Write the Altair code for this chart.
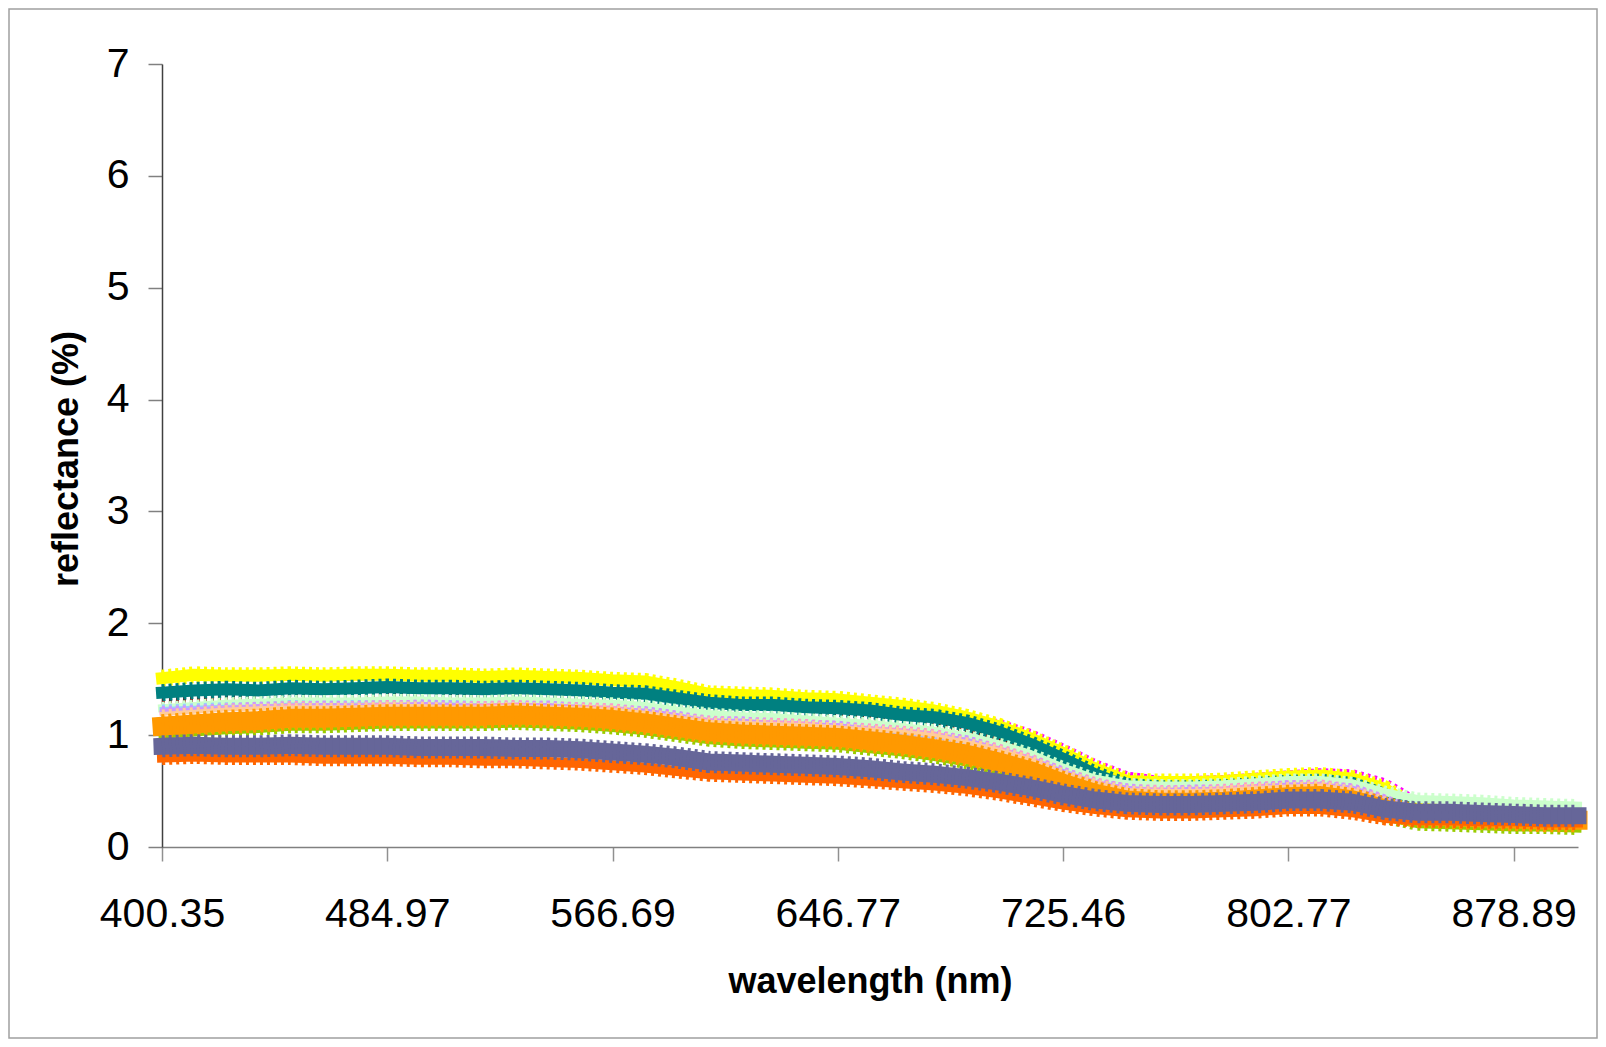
import json
import altair as alt
import pandas as pd

# ---- categories / tick labels -------------------------------------------
TICK_LABELS = ["400.35", "484.97", "566.69", "646.77", "725.46", "802.77", "878.89"]
PER_TICK = 7          # category steps between labelled ticks
N_POINTS = 45         # number of sampled categories
IDX = list(range(N_POINTS))

# ---- series values (reflectance %) ---------------------------------------
magenta = [1.40,1.40,1.41,1.41,1.41,1.41,1.42,1.42,1.42,1.41,1.41,1.42,1.41,1.40,1.38,1.37,1.34,1.30,1.28,1.27,1.25,1.24,1.22,1.19,1.17,1.13,1.10,1.01,0.88,0.74,0.63,0.59,0.59,0.60,0.62,0.64,0.66,0.65,0.57,0.40,0.33,0.30,0.29,0.28,0.28]
yellow = [1.51,1.54,1.53,1.53,1.54,1.53,1.54,1.54,1.53,1.53,1.52,1.53,1.52,1.51,1.49,1.48,1.43,1.37,1.36,1.35,1.33,1.32,1.29,1.26,1.22,1.16,1.08,0.97,0.84,0.70,0.59,0.58,0.58,0.59,0.61,0.63,0.64,0.61,0.52,0.33,0.30,0.29,0.28,0.28,0.27]
darkred = [1.33,1.32,1.33,1.33,1.34,1.34,1.34,1.35,1.35,1.34,1.34,1.35,1.34,1.33,1.31,1.30,1.26,1.22,1.20,1.20,1.18,1.17,1.15,1.11,1.09,1.04,0.97,0.86,0.74,0.61,0.52,0.50,0.50,0.51,0.53,0.55,0.56,0.53,0.43,0.31,0.29,0.28,0.27,0.27,0.26]
teal = [1.38,1.40,1.41,1.40,1.42,1.41,1.42,1.43,1.42,1.42,1.41,1.42,1.41,1.40,1.38,1.37,1.33,1.29,1.27,1.27,1.25,1.24,1.22,1.18,1.16,1.11,1.03,0.92,0.79,0.65,0.54,0.52,0.52,0.53,0.55,0.57,0.58,0.55,0.45,0.32,0.30,0.29,0.28,0.28,0.27]
lightgreen = [1.24,1.26,1.28,1.29,1.30,1.30,1.30,1.31,1.31,1.30,1.30,1.31,1.30,1.29,1.28,1.26,1.22,1.19,1.17,1.16,1.14,1.12,1.10,1.07,1.04,0.99,0.92,0.83,0.71,0.61,0.56,0.55,0.55,0.56,0.58,0.60,0.60,0.57,0.49,0.43,0.42,0.41,0.39,0.38,0.37]
paleblue = [1.23,1.24,1.25,1.25,1.27,1.26,1.27,1.27,1.26,1.27,1.26,1.26,1.25,1.25,1.22,1.20,1.16,1.13,1.11,1.11,1.09,1.08,1.05,1.02,0.99,0.94,0.87,0.78,0.66,0.57,0.51,0.50,0.50,0.51,0.53,0.54,0.55,0.51,0.41,0.30,0.26,0.24,0.22,0.21,0.19]
rose = [1.20,1.22,1.24,1.25,1.26,1.26,1.26,1.27,1.27,1.26,1.26,1.27,1.26,1.25,1.24,1.21,1.17,1.13,1.12,1.11,1.10,1.08,1.06,1.04,1.01,0.95,0.88,0.79,0.67,0.58,0.52,0.51,0.51,0.52,0.54,0.55,0.56,0.52,0.42,0.32,0.28,0.26,0.24,0.22,0.21]
lavender = [1.22,1.23,1.24,1.26,1.25,1.27,1.26,1.26,1.28,1.27,1.25,1.26,1.27,1.24,1.23,1.22,1.18,1.12,1.13,1.10,1.09,1.09,1.05,1.03,1.00,0.96,0.87,0.78,0.68,0.57,0.53,0.50,0.52,0.51,0.53,0.56,0.55,0.53,0.43,0.31,0.27,0.25,0.23,0.21,0.20]
tan = [1.19,1.21,1.23,1.24,1.25,1.25,1.25,1.26,1.26,1.25,1.25,1.26,1.25,1.24,1.23,1.20,1.16,1.12,1.11,1.10,1.09,1.07,1.05,1.03,1.00,0.94,0.87,0.78,0.66,0.57,0.51,0.50,0.50,0.51,0.53,0.54,0.55,0.51,0.41,0.31,0.27,0.25,0.23,0.22,0.21]
lime = [1.00,1.02,1.04,1.05,1.07,1.07,1.08,1.09,1.09,1.09,1.09,1.10,1.09,1.08,1.06,1.03,0.99,0.95,0.93,0.92,0.91,0.90,0.87,0.84,0.80,0.75,0.68,0.60,0.49,0.40,0.34,0.32,0.32,0.33,0.35,0.36,0.37,0.34,0.26,0.20,0.19,0.18,0.17,0.17,0.16]
gold = [1.04,1.06,1.08,1.09,1.11,1.11,1.12,1.13,1.13,1.13,1.12,1.14,1.13,1.12,1.10,1.07,1.03,0.99,0.97,0.96,0.95,0.94,0.91,0.88,0.84,0.79,0.72,0.64,0.53,0.44,0.38,0.36,0.36,0.37,0.39,0.41,0.41,0.38,0.30,0.25,0.24,0.23,0.22,0.21,0.21]
orange = [1.08,1.10,1.12,1.13,1.15,1.15,1.16,1.17,1.17,1.17,1.17,1.18,1.17,1.16,1.14,1.11,1.07,1.03,1.01,1.00,0.99,0.98,0.95,0.92,0.88,0.83,0.76,0.68,0.57,0.48,0.42,0.40,0.40,0.41,0.43,0.45,0.46,0.42,0.34,0.28,0.27,0.26,0.25,0.24,0.24]
redorange = [0.80,0.81,0.80,0.80,0.80,0.79,0.79,0.79,0.78,0.78,0.77,0.77,0.76,0.75,0.73,0.71,0.68,0.65,0.64,0.63,0.62,0.61,0.59,0.57,0.55,0.52,0.48,0.43,0.38,0.34,0.31,0.30,0.30,0.31,0.32,0.34,0.34,0.31,0.26,0.24,0.24,0.23,0.23,0.22,0.22]
bluegray = [0.90,0.91,0.90,0.90,0.91,0.90,0.90,0.90,0.89,0.89,0.89,0.88,0.88,0.87,0.85,0.83,0.80,0.76,0.75,0.74,0.73,0.72,0.70,0.67,0.65,0.62,0.58,0.53,0.47,0.42,0.39,0.38,0.38,0.39,0.40,0.42,0.42,0.40,0.34,0.31,0.31,0.30,0.29,0.28,0.28]

SERIES = {
    "magenta": magenta, "yellow": yellow, "darkred": darkred, "teal": teal,
    "lightgreen": lightgreen, "paleblue": paleblue, "rose": rose,
    "lavender": lavender, "tan": tan, "lime": lime, "gold": gold,
    "orange": orange, "redorange": redorange, "bluegray": bluegray,
}

# ---- styles: draw order, colour, band width (px), solid core drawn? -------
# Each series is drawn as a solid core plus a dashed, slightly wider stroke
# that gives the comb-like edge of densely packed Excel markers.
STYLE = [
    ("magenta", "#FF00FF", 5, False),
    ("yellow", "#FFFF00", 12, True),
    ("darkred", "#800000", 5, False),
    ("teal", "#008080", 12, True),
    ("lightgreen", "#CCFFCC", 8, True),
    ("paleblue", "#99CCFF", 5, True),
    ("rose", "#FF99CC", 5, True),
    ("lavender", "#CC99FF", 4, True),
    ("tan", "#FFCC99", 4, True),
    ("lime", "#99CC00", 7, True),
    ("gold", "#FFCC00", 7, True),
    ("orange", "#FF9900", 19, True),
    ("redorange", "#FF6600", 10, True),
    ("bluegray", "#666699", 17, True),
]

FONT = "Liberation Sans"
W, H = 1416, 783

label_expr = json.dumps(TICK_LABELS) + f"[round(datum.value / {PER_TICK})]"

x_enc = alt.X(
    "idx:Q",
    scale=alt.Scale(domain=[0, N_POINTS - 1], nice=False, zero=False),
    axis=alt.Axis(
        values=list(range(0, N_POINTS, PER_TICK)),
        labelExpr=label_expr,
        title="wavelength (nm)",
        titleFont=FONT, titleFontSize=36, titleFontWeight="bold", titleColor="#000000",
        titleY=145, titleBaseline="alphabetic",
        labelFont=FONT, labelFontSize=41, labelColor="#000000", labelPadding=33,
        labelFlush=False, labelOverlap=False,
        domainColor="#808080", domainWidth=1.5,
        tickColor="#909090", tickSize=14, tickWidth=1.5,
        grid=False,
    ),
)
y_enc = alt.Y(
    "value:Q",
    scale=alt.Scale(domain=[0, 7], nice=False),
    axis=alt.Axis(
        values=[0, 1, 2, 3, 4, 5, 6, 7],
        title="reflectance (%)",
        titleFont=FONT, titleFontSize=36, titleFontWeight="bold", titleColor="#000000",
        titleX=-85, titleY=H / 2 + 3, titleBaseline="alphabetic", titleAngle=270,
        labelFont=FONT, labelFontSize=41, labelColor="#000000", labelPadding=19,
        domainColor="#404040", domainWidth=1.5,
        tickColor="#808080", tickSize=14, tickWidth=1.5,
        grid=False,
    ),
)

layers = []
# outer frame of the chart
frame = alt.Chart(pd.DataFrame({"f": [0]})).mark_rect(
    filled=False, stroke="#a0a0a0", strokeWidth=1.5
).encode(
    x=alt.value(-153), x2=alt.value(W + 19), y=alt.value(-55), y2=alt.value(H + 191)
)
layers.append(frame)

for name, color, width, solid in STYLE:
    df = pd.DataFrame({"idx": IDX, "value": SERIES[name]})
    base = alt.Chart(df)
    if solid:
        layers.append(
            base.mark_line(color=color, strokeWidth=width, strokeJoin="round",
                           strokeCap="square")
            .encode(x=x_enc, y=y_enc)
        )
    layers.append(
        base.mark_line(color=color, strokeWidth=width + 5, strokeDash=[3, 4],
                       strokeJoin="round")
        .encode(x=x_enc, y=y_enc)
    )

chart = alt.layer(*layers).properties(
    width=W, height=H,
    autosize=alt.AutoSizeParams(type="none"),
    padding={"left": 154, "top": 56, "right": 20, "bottom": 192},
    background="#ffffff",
).configure_view(stroke=None)

chart.save("out.html", embed_options={"renderer": "svg", "actions": False})
